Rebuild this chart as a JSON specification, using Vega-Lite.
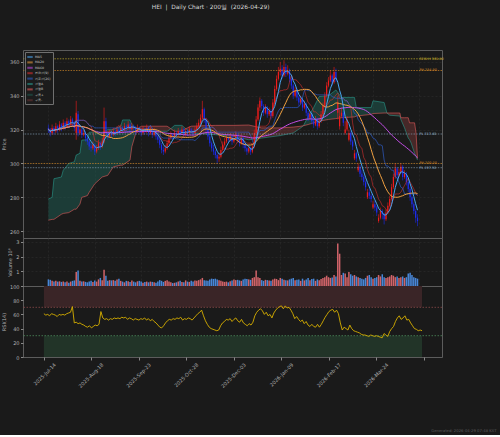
{
"$schema": "https://vega.github.io/schema/vega-lite/v6.json",
"background": "#1a1a1a",
"padding": {"left": 0, "top": 3, "right": 3, "bottom": 2},
"bounds": "flush",
"spacing": 0,
"title": {"text": "HEI\u00a0\u00a0|\u00a0\u00a0Daily Chart · 200일\u00a0\u00a0(2026-04-29)", "fontSize": 5.9, "color": "#d8d8d8", "font": "DejaVu Sans", "fontWeight": "normal", "anchor": "middle", "offset": 40, "dx": -38},
"config": {
  "view": {"stroke": "#5c5c5c", "strokeWidth": 1},
  "axis": {"labelFont": "DejaVu Sans", "titleFont": "DejaVu Sans", "labelFontSize": 5, "titleFontSize": 5, "labelColor": "#b0b0b0", "titleColor": "#b0b0b0", "titleFontWeight": "normal", "tickColor": "#888888", "tickSize": 2.5, "domain": false, "gridColor": "#2e2e2e", "gridWidth": 0.6, "gridDash": [2, 2], "labelPadding": 1.5, "titlePadding": 3, "labelOverlap": false, "labelBound": false}
},
"datasets": {
"bars": [
{"i":0,"open":321,"high":323,"low":318,"close":320,"volume":0.45,"rsi":61},
{"i":1,"open":320,"high":321,"low":316,"close":318,"volume":0.42,"rsi":59},
{"i":2,"open":318,"high":323,"low":317,"close":321,"volume":0.35,"rsi":60},
{"i":3,"open":321,"high":322,"low":317,"close":319,"volume":0.3,"rsi":58},
{"i":4,"open":319,"high":324,"low":318,"close":322,"volume":0.35,"rsi":61},
{"i":5,"open":322,"high":323,"low":318,"close":320,"volume":0.3,"rsi":60},
{"i":6,"open":320,"high":325,"low":319,"close":323,"volume":0.32,"rsi":59},
{"i":7,"open":323,"high":324,"low":319,"close":321,"volume":0.28,"rsi":57},
{"i":8,"open":321,"high":326,"low":320,"close":324,"volume":0.3,"rsi":60},
{"i":9,"open":324,"high":325,"low":320,"close":322,"volume":0.25,"rsi":59},
{"i":10,"open":322,"high":327,"low":321,"close":325,"volume":0.3,"rsi":60},
{"i":11,"open":325,"high":326,"low":321,"close":323,"volume":0.22,"rsi":59},
{"i":12,"open":323,"high":328,"low":322,"close":326,"volume":0.3,"rsi":61},
{"i":13,"open":326,"high":327,"low":322,"close":324,"volume":0.35,"rsi":62},
{"i":14,"open":324,"high":325,"low":319,"close":321,"volume":0.38,"rsi":63},
{"i":15,"open":318,"high":337,"low":314,"close":330,"volume":0.95,"rsi":71},
{"i":16,"open":329,"high":331,"low":316,"close":318,"volume":1.05,"rsi":48},
{"i":17,"open":318,"high":322,"low":317,"close":320,"volume":0.35,"rsi":49},
{"i":18,"open":320,"high":321,"low":315,"close":317,"volume":0.3,"rsi":47},
{"i":19,"open":317,"high":320,"low":316,"close":318,"volume":0.32,"rsi":48},
{"i":20,"open":318,"high":319,"low":313,"close":315,"volume":0.28,"rsi":46},
{"i":21,"open":315,"high":316,"low":311,"close":313,"volume":0.25,"rsi":45},
{"i":22,"open":313,"high":314,"low":308,"close":310,"volume":0.3,"rsi":43},
{"i":23,"open":310,"high":312,"low":307,"close":309,"volume":0.35,"rsi":42},
{"i":24,"open":309,"high":313,"low":308,"close":311,"volume":0.28,"rsi":44},
{"i":25,"open":311,"high":312,"low":305,"close":307,"volume":0.38,"rsi":41},
{"i":26,"open":307,"high":311,"low":306,"close":309,"volume":0.3,"rsi":43},
{"i":27,"open":309,"high":314,"low":308,"close":312,"volume":0.45,"rsi":45},
{"i":28,"open":312,"high":313,"low":308,"close":310,"volume":0.55,"rsi":44},
{"i":29,"open":310,"high":315,"low":309,"close":313,"volume":0.4,"rsi":46},
{"i":30,"open":313,"high":333,"low":312,"close":325,"volume":1.1,"rsi":64},
{"i":31,"open":325,"high":327,"low":316,"close":318,"volume":0.7,"rsi":55},
{"i":32,"open":318,"high":319,"low":314,"close":316,"volume":0.35,"rsi":53},
{"i":33,"open":316,"high":320,"low":315,"close":318,"volume":0.4,"rsi":54},
{"i":34,"open":318,"high":319,"low":315,"close":317,"volume":0.38,"rsi":52},
{"i":35,"open":317,"high":321,"low":316,"close":319,"volume":0.4,"rsi":54},
{"i":36,"open":319,"high":320,"low":316,"close":318,"volume":0.35,"rsi":53},
{"i":37,"open":318,"high":322,"low":317,"close":320,"volume":0.45,"rsi":55},
{"i":38,"open":320,"high":321,"low":317,"close":319,"volume":0.5,"rsi":54},
{"i":39,"open":319,"high":323,"low":318,"close":321,"volume":0.35,"rsi":55},
{"i":40,"open":321,"high":322,"low":318,"close":320,"volume":0.3,"rsi":54},
{"i":41,"open":320,"high":324,"low":319,"close":322,"volume":0.25,"rsi":56},
{"i":42,"open":322,"high":323,"low":319,"close":321,"volume":0.35,"rsi":55},
{"i":43,"open":321,"high":325,"low":320,"close":323,"volume":0.32,"rsi":56},
{"i":44,"open":323,"high":324,"low":318,"close":320,"volume":0.28,"rsi":53},
{"i":45,"open":320,"high":324,"low":319,"close":322,"volume":0.38,"rsi":55},
{"i":46,"open":322,"high":323,"low":319,"close":321,"volume":0.3,"rsi":54},
{"i":47,"open":321,"high":322,"low":317,"close":319,"volume":0.25,"rsi":52},
{"i":48,"open":319,"high":323,"low":318,"close":321,"volume":0.32,"rsi":54},
{"i":49,"open":321,"high":322,"low":318,"close":320,"volume":0.35,"rsi":53},
{"i":50,"open":320,"high":321,"low":316,"close":318,"volume":0.3,"rsi":52},
{"i":51,"open":318,"high":322,"low":317,"close":320,"volume":0.22,"rsi":54},
{"i":52,"open":320,"high":321,"low":317,"close":319,"volume":0.28,"rsi":53},
{"i":53,"open":319,"high":323,"low":318,"close":321,"volume":0.3,"rsi":55},
{"i":54,"open":321,"high":322,"low":316,"close":318,"volume":0.25,"rsi":52},
{"i":55,"open":318,"high":322,"low":317,"close":320,"volume":0.3,"rsi":54},
{"i":56,"open":320,"high":321,"low":315,"close":317,"volume":0.28,"rsi":51},
{"i":57,"open":317,"high":321,"low":316,"close":319,"volume":0.25,"rsi":53},
{"i":58,"open":319,"high":320,"low":314,"close":316,"volume":0.22,"rsi":50},
{"i":59,"open":316,"high":317,"low":312,"close":314,"volume":0.3,"rsi":48},
{"i":60,"open":314,"high":315,"low":309,"close":311,"volume":0.4,"rsi":45},
{"i":61,"open":311,"high":312,"low":306,"close":308,"volume":0.35,"rsi":42},
{"i":62,"open":308,"high":310,"low":305,"close":307,"volume":0.28,"rsi":41},
{"i":63,"open":307,"high":311,"low":306,"close":309,"volume":0.35,"rsi":44},
{"i":64,"open":309,"high":314,"low":308,"close":312,"volume":0.4,"rsi":48},
{"i":65,"open":312,"high":317,"low":311,"close":315,"volume":0.3,"rsi":51},
{"i":66,"open":315,"high":319,"low":314,"close":317,"volume":0.25,"rsi":53},
{"i":67,"open":317,"high":318,"low":314,"close":316,"volume":0.2,"rsi":52},
{"i":68,"open":316,"high":320,"low":315,"close":318,"volume":0.22,"rsi":54},
{"i":69,"open":318,"high":319,"low":315,"close":317,"volume":0.25,"rsi":53},
{"i":70,"open":317,"high":321,"low":316,"close":319,"volume":0.3,"rsi":55},
{"i":71,"open":319,"high":320,"low":316,"close":318,"volume":0.35,"rsi":54},
{"i":72,"open":318,"high":322,"low":317,"close":320,"volume":0.28,"rsi":56},
{"i":73,"open":320,"high":321,"low":315,"close":317,"volume":0.25,"rsi":52},
{"i":74,"open":317,"high":321,"low":316,"close":319,"volume":0.38,"rsi":54},
{"i":75,"open":319,"high":320,"low":316,"close":318,"volume":0.3,"rsi":53},
{"i":76,"open":318,"high":322,"low":317,"close":320,"volume":0.28,"rsi":55},
{"i":77,"open":320,"high":321,"low":317,"close":319,"volume":0.35,"rsi":54},
{"i":78,"open":319,"high":320,"low":316,"close":318,"volume":0.3,"rsi":52},
{"i":79,"open":318,"high":322,"low":317,"close":320,"volume":0.38,"rsi":55},
{"i":80,"open":320,"high":324,"low":319,"close":322,"volume":0.35,"rsi":58},
{"i":81,"open":322,"high":326,"low":321,"close":324,"volume":0.4,"rsi":61},
{"i":82,"open":324,"high":329,"low":323,"close":327,"volume":0.45,"rsi":63},
{"i":83,"open":327,"high":337,"low":326,"close":332,"volume":0.55,"rsi":66},
{"i":84,"open":332,"high":333,"low":324,"close":326,"volume":0.4,"rsi":58},
{"i":85,"open":326,"high":327,"low":318,"close":320,"volume":0.38,"rsi":51},
{"i":86,"open":320,"high":321,"low":314,"close":316,"volume":0.35,"rsi":46},
{"i":87,"open":316,"high":317,"low":310,"close":312,"volume":0.45,"rsi":42},
{"i":88,"open":312,"high":313,"low":307,"close":309,"volume":0.5,"rsi":40},
{"i":89,"open":309,"high":311,"low":305,"close":307,"volume":0.48,"rsi":39},
{"i":90,"open":307,"high":308,"low":303,"close":305,"volume":0.5,"rsi":38},
{"i":91,"open":305,"high":306,"low":300,"close":303,"volume":0.45,"rsi":37},
{"i":92,"open":303,"high":306,"low":301,"close":304,"volume":0.4,"rsi":38},
{"i":93,"open":304,"high":310,"low":303,"close":308,"volume":0.35,"rsi":44},
{"i":94,"open":308,"high":313,"low":307,"close":311,"volume":0.3,"rsi":48},
{"i":95,"open":311,"high":315,"low":310,"close":313,"volume":0.28,"rsi":50},
{"i":96,"open":313,"high":317,"low":312,"close":315,"volume":0.3,"rsi":53},
{"i":97,"open":315,"high":316,"low":312,"close":314,"volume":0.25,"rsi":52},
{"i":98,"open":314,"high":318,"low":313,"close":316,"volume":0.32,"rsi":54},
{"i":99,"open":316,"high":317,"low":311,"close":313,"volume":0.38,"rsi":50},
{"i":100,"open":313,"high":317,"low":312,"close":315,"volume":0.45,"rsi":53},
{"i":101,"open":315,"high":319,"low":314,"close":317,"volume":0.4,"rsi":55},
{"i":102,"open":317,"high":318,"low":312,"close":314,"volume":0.42,"rsi":51},
{"i":103,"open":314,"high":315,"low":310,"close":312,"volume":0.38,"rsi":49},
{"i":104,"open":312,"high":317,"low":311,"close":315,"volume":0.35,"rsi":53},
{"i":105,"open":315,"high":316,"low":309,"close":311,"volume":0.45,"rsi":48},
{"i":106,"open":311,"high":312,"low":307,"close":309,"volume":0.5,"rsi":46},
{"i":107,"open":309,"high":310,"low":305,"close":307,"volume":0.48,"rsi":44},
{"i":108,"open":307,"high":311,"low":306,"close":309,"volume":0.45,"rsi":47},
{"i":109,"open":309,"high":310,"low":305,"close":307,"volume":0.42,"rsi":45},
{"i":110,"open":307,"high":312,"low":306,"close":310,"volume":0.55,"rsi":49},
{"i":111,"open":310,"high":320,"low":309,"close":318,"volume":0.6,"rsi":58},
{"i":112,"open":318,"high":328,"low":317,"close":326,"volume":1.05,"rsi":63},
{"i":113,"open":326,"high":335,"low":325,"close":333,"volume":0.6,"rsi":66},
{"i":114,"open":333,"high":339,"low":331,"close":337,"volume":0.55,"rsi":68},
{"i":115,"open":337,"high":338,"low":332,"close":334,"volume":0.4,"rsi":65},
{"i":116,"open":334,"high":335,"low":328,"close":330,"volume":0.35,"rsi":60},
{"i":117,"open":330,"high":335,"low":329,"close":333,"volume":0.42,"rsi":63},
{"i":118,"open":333,"high":334,"low":327,"close":329,"volume":0.4,"rsi":58},
{"i":119,"open":329,"high":333,"low":328,"close":331,"volume":0.38,"rsi":60},
{"i":120,"open":331,"high":332,"low":326,"close":328,"volume":0.35,"rsi":55},
{"i":121,"open":328,"high":338,"low":327,"close":336,"volume":0.45,"rsi":62},
{"i":122,"open":336,"high":346,"low":335,"close":344,"volume":0.5,"rsi":66},
{"i":123,"open":344,"high":352,"low":343,"close":350,"volume":0.48,"rsi":69},
{"i":124,"open":350,"high":357,"low":349,"close":354,"volume":0.4,"rsi":71},
{"i":125,"open":354,"high":360,"low":352,"close":356,"volume":0.55,"rsi":72},
{"i":126,"open":356,"high":358,"low":350,"close":352,"volume":0.5,"rsi":68},
{"i":127,"open":352,"high":361,"low":351,"close":357,"volume":0.42,"rsi":72},
{"i":128,"open":357,"high":359,"low":351,"close":353,"volume":0.4,"rsi":69},
{"i":129,"open":353,"high":358,"low":352,"close":355,"volume":0.38,"rsi":70},
{"i":130,"open":355,"high":356,"low":348,"close":350,"volume":0.45,"rsi":66},
{"i":131,"open":350,"high":351,"low":344,"close":346,"volume":0.5,"rsi":61},
{"i":132,"open":346,"high":347,"low":338,"close":340,"volume":0.55,"rsi":54},
{"i":133,"open":340,"high":345,"low":339,"close":343,"volume":0.4,"rsi":57},
{"i":134,"open":343,"high":344,"low":337,"close":339,"volume":0.42,"rsi":53},
{"i":135,"open":339,"high":340,"low":334,"close":336,"volume":0.45,"rsi":50},
{"i":136,"open":336,"high":340,"low":335,"close":338,"volume":0.35,"rsi":52},
{"i":137,"open":338,"high":339,"low":331,"close":333,"volume":0.5,"rsi":47},
{"i":138,"open":333,"high":337,"low":332,"close":335,"volume":0.38,"rsi":50},
{"i":139,"open":335,"high":336,"low":328,"close":330,"volume":0.45,"rsi":45},
{"i":140,"open":330,"high":331,"low":325,"close":327,"volume":0.55,"rsi":43},
{"i":141,"open":327,"high":331,"low":326,"close":329,"volume":0.4,"rsi":46},
{"i":142,"open":329,"high":330,"low":323,"close":325,"volume":0.48,"rsi":43},
{"i":143,"open":325,"high":326,"low":321,"close":323,"volume":0.5,"rsi":42},
{"i":144,"open":323,"high":328,"low":322,"close":326,"volume":0.35,"rsi":46},
{"i":145,"open":326,"high":327,"low":320,"close":322,"volume":0.45,"rsi":42},
{"i":146,"open":322,"high":327,"low":321,"close":325,"volume":0.4,"rsi":46},
{"i":147,"open":325,"high":331,"low":324,"close":329,"volume":0.48,"rsi":51},
{"i":148,"open":329,"high":336,"low":328,"close":334,"volume":0.55,"rsi":56},
{"i":149,"open":334,"high":342,"low":333,"close":340,"volume":0.6,"rsi":60},
{"i":150,"open":340,"high":348,"low":339,"close":346,"volume":0.7,"rsi":64},
{"i":151,"open":346,"high":351,"low":345,"close":349,"volume":0.6,"rsi":66},
{"i":152,"open":349,"high":355,"low":348,"close":352,"volume":0.55,"rsi":67},
{"i":153,"open":352,"high":353,"low":346,"close":348,"volume":0.58,"rsi":63},
{"i":154,"open":348,"high":357,"low":347,"close":354,"volume":0.75,"rsi":66},
{"i":155,"open":354,"high":356,"low":348,"close":350,"volume":0.65,"rsi":61},
{"i":156,"open":330,"high":340,"low":326,"close":336,"volume":2.9,"rsi":48},
{"i":157,"open":322,"high":332,"low":320,"close":328,"volume":2.2,"rsi":38},
{"i":158,"open":328,"high":333,"low":327,"close":330,"volume":0.75,"rsi":42},
{"i":159,"open":330,"high":331,"low":322,"close":324,"volume":0.9,"rsi":40},
{"i":160,"open":318,"high":325,"low":317,"close":320,"volume":0.85,"rsi":38},
{"i":161,"open":320,"high":328,"low":319,"close":326,"volume":0.6,"rsi":45},
{"i":162,"open":314,"high":320,"low":313,"close":318,"volume":0.95,"rsi":40},
{"i":163,"open":318,"high":319,"low":311,"close":313,"volume":0.8,"rsi":37},
{"i":164,"open":313,"high":314,"low":308,"close":310,"volume":0.7,"rsi":36},
{"i":165,"open":303,"high":308,"low":302,"close":306,"volume":0.75,"rsi":35},
{"i":166,"open":306,"high":307,"low":301,"close":303,"volume":0.65,"rsi":34},
{"i":167,"open":296,"high":300,"low":295,"close":298,"volume":0.6,"rsi":32},
{"i":168,"open":298,"high":299,"low":292,"close":294,"volume":0.55,"rsi":31},
{"i":169,"open":294,"high":296,"low":290,"close":292,"volume":0.5,"rsi":31},
{"i":170,"open":292,"high":293,"low":287,"close":289,"volume":0.45,"rsi":30},
{"i":171,"open":289,"high":290,"low":284,"close":286,"volume":0.55,"rsi":29},
{"i":172,"open":280,"high":285,"low":279,"close":283,"volume":0.7,"rsi":31},
{"i":173,"open":283,"high":285,"low":279,"close":281,"volume":0.75,"rsi":30},
{"i":174,"open":281,"high":282,"low":277,"close":279,"volume":0.6,"rsi":29},
{"i":175,"open":274,"high":278,"low":273,"close":276,"volume":0.5,"rsi":30},
{"i":176,"open":276,"high":278,"low":272,"close":274,"volume":0.55,"rsi":29},
{"i":177,"open":274,"high":275,"low":269,"close":271,"volume":0.6,"rsi":28},
{"i":178,"open":266,"high":270,"low":265,"close":268,"volume":0.75,"rsi":27},
{"i":179,"open":268,"high":274,"low":267,"close":272,"volume":0.65,"rsi":33},
{"i":180,"open":272,"high":273,"low":267,"close":270,"volume":0.8,"rsi":31},
{"i":181,"open":270,"high":271,"low":264,"close":267,"volume":0.6,"rsi":29},
{"i":182,"open":267,"high":273,"low":266,"close":271,"volume":0.55,"rsi":36},
{"i":183,"open":271,"high":277,"low":270,"close":275,"volume":0.6,"rsi":40},
{"i":184,"open":275,"high":281,"low":274,"close":279,"volume":0.65,"rsi":43},
{"i":185,"open":279,"high":288,"low":278,"close":286,"volume":0.75,"rsi":50},
{"i":186,"open":286,"high":294,"low":285,"close":292,"volume":0.7,"rsi":55},
{"i":187,"open":292,"high":300,"low":291,"close":297,"volume":0.6,"rsi":58},
{"i":188,"open":297,"high":298,"low":291,"close":293,"volume":0.65,"rsi":53},
{"i":189,"open":293,"high":297,"low":292,"close":295,"volume":0.55,"rsi":55},
{"i":190,"open":295,"high":300,"low":294,"close":298,"volume":0.6,"rsi":58},
{"i":191,"open":298,"high":299,"low":290,"close":292,"volume":0.65,"rsi":52},
{"i":192,"open":292,"high":296,"low":291,"close":294,"volume":0.55,"rsi":53},
{"i":193,"open":294,"high":295,"low":287,"close":289,"volume":0.6,"rsi":48},
{"i":194,"open":289,"high":290,"low":283,"close":285,"volume":0.85,"rsi":44},
{"i":195,"open":285,"high":286,"low":278,"close":280,"volume":0.9,"rsi":40},
{"i":196,"open":280,"high":281,"low":274,"close":276,"volume":0.75,"rsi":39},
{"i":197,"open":276,"high":277,"low":270,"close":272,"volume":0.6,"rsi":37},
{"i":198,"open":272,"high":273,"low":265,"close":268,"volume":0.55,"rsi":38},
{"i":199,"open":268,"high":270,"low":263,"close":266,"volume":0.5,"rsi":37}
],
"cloud": [
{"i":0,"a":279,"b":266.5,"seg":1,"cloud":"구름+"},
{"i":2,"a":280,"b":267,"seg":1,"cloud":"구름+"},
{"i":3,"a":291,"b":267,"seg":1,"cloud":"구름+"},
{"i":7,"a":292,"b":270,"seg":1,"cloud":"구름+"},
{"i":8,"a":296,"b":270.5,"seg":1,"cloud":"구름+"},
{"i":11,"a":300,"b":271,"seg":1,"cloud":"구름+"},
{"i":14,"a":301,"b":273,"seg":1,"cloud":"구름+"},
{"i":15,"a":305,"b":273,"seg":1,"cloud":"구름+"},
{"i":17,"a":306,"b":276,"seg":1,"cloud":"구름+"},
{"i":18,"a":313.8,"b":280,"seg":1,"cloud":"구름+"},
{"i":21,"a":314,"b":281,"seg":1,"cloud":"구름+"},
{"i":22,"a":318.5,"b":283,"seg":1,"cloud":"구름+"},
{"i":25,"a":318.5,"b":288,"seg":1,"cloud":"구름+"},
{"i":29,"a":318.5,"b":292,"seg":1,"cloud":"구름+"},
{"i":32,"a":320,"b":293,"seg":1,"cloud":"구름+"},
{"i":35,"a":320,"b":298,"seg":1,"cloud":"구름+"},
{"i":39,"a":322,"b":299,"seg":1,"cloud":"구름+"},
{"i":40,"a":325.7,"b":299,"seg":1,"cloud":"구름+"},
{"i":44,"a":325.7,"b":302,"seg":1,"cloud":"구름+"},
{"i":45,"a":323,"b":310,"seg":1,"cloud":"구름+"},
{"i":47,"a":321,"b":317.5,"seg":1,"cloud":"구름+"},
{"i":48,"a":320,"b":320,"seg":1,"cloud":"구름+"},
{"i":48,"a":320,"b":320,"seg":2,"cloud":"구름-"},
{"i":50,"a":319,"b":322,"seg":2,"cloud":"구름-"},
{"i":64,"a":319,"b":322,"seg":2,"cloud":"구름-"},
{"i":66,"a":320.5,"b":320.5,"seg":2,"cloud":"구름-"},
{"i":66,"a":320.5,"b":320.5,"seg":3,"cloud":"구름+"},
{"i":68,"a":322.5,"b":319,"seg":3,"cloud":"구름+"},
{"i":72,"a":322.5,"b":319,"seg":3,"cloud":"구름+"},
{"i":74,"a":320.5,"b":320.5,"seg":3,"cloud":"구름+"},
{"i":74,"a":320.5,"b":320.5,"seg":4,"cloud":"구름-"},
{"i":77,"a":318,"b":322,"seg":4,"cloud":"구름-"},
{"i":90,"a":317,"b":322.5,"seg":4,"cloud":"구름-"},
{"i":100,"a":316,"b":322.5,"seg":4,"cloud":"구름-"},
{"i":108,"a":314,"b":322.7,"seg":4,"cloud":"구름-"},
{"i":115,"a":315,"b":321,"seg":4,"cloud":"구름-"},
{"i":125,"a":316.5,"b":321,"seg":4,"cloud":"구름-"},
{"i":132,"a":318,"b":321.5,"seg":4,"cloud":"구름-"},
{"i":136,"a":321,"b":322,"seg":4,"cloud":"구름-"},
{"i":137.5,"a":322.3,"b":322.3,"seg":4,"cloud":"구름-"},
{"i":137.5,"a":322.3,"b":322.3,"seg":5,"cloud":"구름+"},
{"i":140,"a":327.6,"b":323,"seg":5,"cloud":"구름+"},
{"i":143,"a":333,"b":324,"seg":5,"cloud":"구름+"},
{"i":146,"a":339.5,"b":325,"seg":5,"cloud":"구름+"},
{"i":151,"a":340,"b":326,"seg":5,"cloud":"구름+"},
{"i":155,"a":343.4,"b":326.5,"seg":5,"cloud":"구름+"},
{"i":158,"a":339,"b":327,"seg":5,"cloud":"구름+"},
{"i":165,"a":339,"b":327.5,"seg":5,"cloud":"구름+"},
{"i":166,"a":333,"b":328,"seg":5,"cloud":"구름+"},
{"i":174,"a":333,"b":329,"seg":5,"cloud":"구름+"},
{"i":175,"a":337,"b":329.5,"seg":5,"cloud":"구름+"},
{"i":181,"a":336,"b":329.8,"seg":5,"cloud":"구름+"},
{"i":182.5,"a":329.8,"b":329.8,"seg":5,"cloud":"구름+"},
{"i":182.5,"a":329.8,"b":329.8,"seg":6,"cloud":"구름-"},
{"i":184,"a":328.5,"b":329.8,"seg":6,"cloud":"구름-"},
{"i":189.5,"a":328,"b":329.8,"seg":6,"cloud":"구름-"},
{"i":190,"a":326,"b":327,"seg":6,"cloud":"구름-"},
{"i":192,"a":321,"b":327,"seg":6,"cloud":"구름-"},
{"i":194,"a":315,"b":327,"seg":6,"cloud":"구름-"},
{"i":194.7,"a":314,"b":324,"seg":6,"cloud":"구름-"},
{"i":195.6,"a":312,"b":324,"seg":6,"cloud":"구름-"},
{"i":197.4,"a":306,"b":324,"seg":6,"cloud":"구름-"},
{"i":198.2,"a":304,"b":318,"seg":6,"cloud":"구름-"},
{"i":199,"a":302,"b":303,"seg":6,"cloud":"구름-"}
],
"levels": [
{"level":361.8,"label":"52W H 361.80","kind":"52W"},
{"level":354.9,"label":"PH 354.90","kind":"PH"},
{"level":317.4,"label":"PL 317.40","kind":"PL"},
{"level":300.0,"label":"PH 300.00","kind":"PH"},
{"level":297.5,"label":"PL 297.50","kind":"PL"}
]
},
"vconcat": [
{
"width": 419, "height": 188,
"layer": [
{"data": {"name": "cloud"}, "mark": {"type": "area", "opacity": 0.55},
 "encoding": {
  "x": {"field": "i", "type": "quantitative", "scale": {"domain": [-11, 209.5], "nice": false, "zero": false}, "axis": {"values": [0,25,50,75,100,125,150,175,200], "labels": false, "ticks": false, "title": null}},
  "y": {"field": "a", "type": "quantitative", "scale": {"domain": [256, 367], "nice": false, "zero": false}, "axis": {"values": [260,280,300,320,340,360], "title": "Price", "labelOverlap": false, "tickCount": 6}},
  "y2": {"field": "b"},
  "detail": {"field": "seg"},
  "color": {"field": "cloud", "type": "nominal",
   "scale": {"domain": ["MA5","MA20","MA60","전환선(9)","기준선(26)","선행A","선행B","구름+","구름-"], "range": ["#48a4f0","#f0a040","#c44ee8","#e03030","#2f62d6","#2aa193","#f06060","#1f5a50","#6b3434"]},
   "legend": {"title": null, "orient": "top-left", "offset": 1.5, "fillColor": "#1c1c1c", "strokeColor": "#707070", "padding": 2, "labelFontSize": 3.2, "labelColor": "#c8c8c8", "labelFont": "DejaVu Sans", "symbolSize": 30, "rowPadding": 0.4, "labelOffset": 2, "symbolType": "M-1,-0.38H1V0.38H-1Z", "symbolStrokeWidth": 0,
     "encode": {"symbols": {"update": {"fill": {"scale": "color", "field": "value"}, "opacity": {"value": 1}, "strokeWidth": {"value": 0}}}}}}
 }},
{"data": {"name": "cloud"}, "mark": {"type": "line", "strokeWidth": 0.7, "opacity": 0.8},
 "encoding": {"x": {"field": "i", "type": "quantitative"}, "y": {"field": "a", "type": "quantitative"}, "color": {"datum": "선행A"}}},
{"data": {"name": "cloud"}, "mark": {"type": "line", "strokeWidth": 0.7, "opacity": 0.8},
 "encoding": {"x": {"field": "i", "type": "quantitative"}, "y": {"field": "b", "type": "quantitative"}, "color": {"datum": "선행B"}}},
{"data": {"name": "bars"}, "mark": {"type": "rule", "strokeWidth": 0.6},
 "encoding": {"x": {"field": "i", "type": "quantitative"}, "y": {"field": "low", "type": "quantitative"}, "y2": {"field": "high"},
  "color": {"condition": {"test": "datum.close >= datum.open", "value": "#f01c1c"}, "value": "#1c2cf0"}}},
{"data": {"name": "bars"}, "mark": {"type": "bar", "size": 1.2},
 "encoding": {"x": {"field": "i", "type": "quantitative"}, "y": {"field": "open", "type": "quantitative"}, "y2": {"field": "close"},
  "color": {"condition": {"test": "datum.close >= datum.open", "value": "#f01c1c"}, "value": "#1c2cf0"}}},
{"data": {"name": "bars"}, "transform": [{"window": [{"op": "max", "field": "high", "as": "hh"}, {"op": "min", "field": "low", "as": "ll"}], "frame": [-8, 0], "sort": [{"field": "i"}]}, {"fold": ["hh", "ll"]}],
 "mark": {"type": "line", "strokeWidth": 0.8, "opacity": 0.7},
 "encoding": {"x": {"field": "i", "type": "quantitative"}, "y": {"aggregate": "mean", "field": "value", "type": "quantitative"}, "color": {"datum": "전환선(9)"}}},
{"data": {"name": "bars"}, "transform": [{"window": [{"op": "max", "field": "high", "as": "hh"}, {"op": "min", "field": "low", "as": "ll"}], "frame": [-25, 0], "sort": [{"field": "i"}]}, {"fold": ["hh", "ll"]}],
 "mark": {"type": "line", "strokeWidth": 0.8, "opacity": 0.8},
 "encoding": {"x": {"field": "i", "type": "quantitative"}, "y": {"aggregate": "mean", "field": "value", "type": "quantitative"}, "color": {"datum": "기준선(26)"}}},
{"data": {"name": "bars"}, "transform": [{"window": [{"op": "mean", "field": "close", "as": "ma"}], "frame": [-59, 0], "sort": [{"field": "i"}]}],
 "mark": {"type": "line", "strokeWidth": 1},
 "encoding": {"x": {"field": "i", "type": "quantitative"}, "y": {"field": "ma", "type": "quantitative"}, "color": {"datum": "MA60"}}},
{"data": {"name": "bars"}, "transform": [{"window": [{"op": "mean", "field": "close", "as": "ma"}], "frame": [-19, 0], "sort": [{"field": "i"}]}],
 "mark": {"type": "line", "strokeWidth": 1},
 "encoding": {"x": {"field": "i", "type": "quantitative"}, "y": {"field": "ma", "type": "quantitative"}, "color": {"datum": "MA20"}}},
{"data": {"name": "bars"}, "transform": [{"window": [{"op": "mean", "field": "close", "as": "ma"}], "frame": [-4, 0], "sort": [{"field": "i"}]}],
 "mark": {"type": "line", "strokeWidth": 1},
 "encoding": {"x": {"field": "i", "type": "quantitative"}, "y": {"field": "ma", "type": "quantitative"}, "color": {"datum": "MA5"}}},
{"data": {"name": "levels"}, "mark": {"type": "rule", "strokeDash": [1.5, 1.2], "strokeWidth": 0.8, "opacity": 0.85},
 "encoding": {"y": {"field": "level", "type": "quantitative"},
  "stroke": {"field": "kind", "type": "nominal", "scale": {"domain": ["52W","PH","PL"], "range": ["#c9b22c","#d48a28","#7f9bb3"]}, "legend": null}}},
{"data": {"name": "levels"}, "mark": {"type": "text", "align": "left", "baseline": "middle", "fontSize": 3.4, "font": "DejaVu Sans"},
 "encoding": {"x": {"datum": 200, "type": "quantitative"}, "y": {"field": "level", "type": "quantitative"}, "text": {"field": "label"},
  "fill": {"field": "kind", "type": "nominal", "scale": {"domain": ["52W","PH","PL"], "range": ["#c9b22c","#d48a28","#8fabc3"]}, "legend": null}}}
]
},
{
"width": 419, "height": 48,
"data": {"name": "bars"},
"mark": {"type": "bar", "size": 1.5, "opacity": 0.9},
"encoding": {
 "x": {"field": "i", "type": "quantitative", "scale": {"domain": [-11, 209.5], "nice": false, "zero": false}, "axis": {"values": [0,25,50,75,100,125,150,175,200], "labels": false, "ticks": false, "title": null}},
 "y": {"field": "volume", "type": "quantitative", "scale": {"domain": [0, 3.27], "nice": false}, "axis": {"values": [1,2,3], "title": "Volume  10⁶", "labelOverlap": false}},
 "color": {"condition": {"test": "datum.close >= datum.open", "value": "#e46c72"}, "value": "#4e92ec"}
}
},
{
"width": 419, "height": 71,
"layer": [
{"data": {"values": [{}]}, "mark": {"type": "rect", "color": "#3a2527"},
 "encoding": {"x": {"datum": 0, "type": "quantitative", "scale": {"domain": [-11, 209.5], "nice": false, "zero": false},
    "axis": {"values": [0,25,50,75,100,125,150,175,200], "labelExpr": "['2025-Jul-14','2025-Aug-18','2025-Sep-23','2025-Oct-28','2025-Dec-03','2026-Jan-09','2026-Feb-17','2026-Mar-24',''][round(datum.value/25)]", "labelAngle": -45, "labelAlign": "right", "labelBaseline": "top", "labelOffset": 9, "labelPadding": 2, "tickSize": 3,
    "title": "Generated: 2026-04-29 07:48 KST", "titleX": 473, "titleY": 73, "titleAlign": "right", "titleBaseline": "middle", "titleFontSize": 3.8, "titleColor": "#5a5a5a"}},
  "x2": {"datum": 199},
  "y": {"datum": 70, "type": "quantitative", "scale": {"domain": [0, 100], "nice": false}, "axis": {"values": [0,20,40,60,80,100], "title": "RSI(14)", "labelOverlap": false, "tickCount": 6}}, "y2": {"datum": 100}}},
{"data": {"values": [{}]}, "mark": {"type": "rect", "color": "#223428"},
 "encoding": {"x": {"datum": 0, "type": "quantitative"}, "x2": {"datum": 199},
  "y": {"datum": 0, "type": "quantitative"}, "y2": {"datum": 30}}},
{"data": {"values": [{}]}, "mark": {"type": "rule", "color": "#8b4a4a", "strokeDash": [1.5, 1.5], "strokeWidth": 0.8},
 "encoding": {"y": {"datum": 70, "type": "quantitative"}}},
{"data": {"values": [{}]}, "mark": {"type": "rule", "color": "#4c8a5a", "strokeDash": [1.5, 1.5], "strokeWidth": 0.8},
 "encoding": {"y": {"datum": 30, "type": "quantitative"}}},
{"data": {"name": "bars"}, "mark": {"type": "line", "color": "#d8b000", "strokeWidth": 0.9},
 "encoding": {"x": {"field": "i", "type": "quantitative"}, "y": {"field": "rsi", "type": "quantitative"}}}
]
}
]
}
